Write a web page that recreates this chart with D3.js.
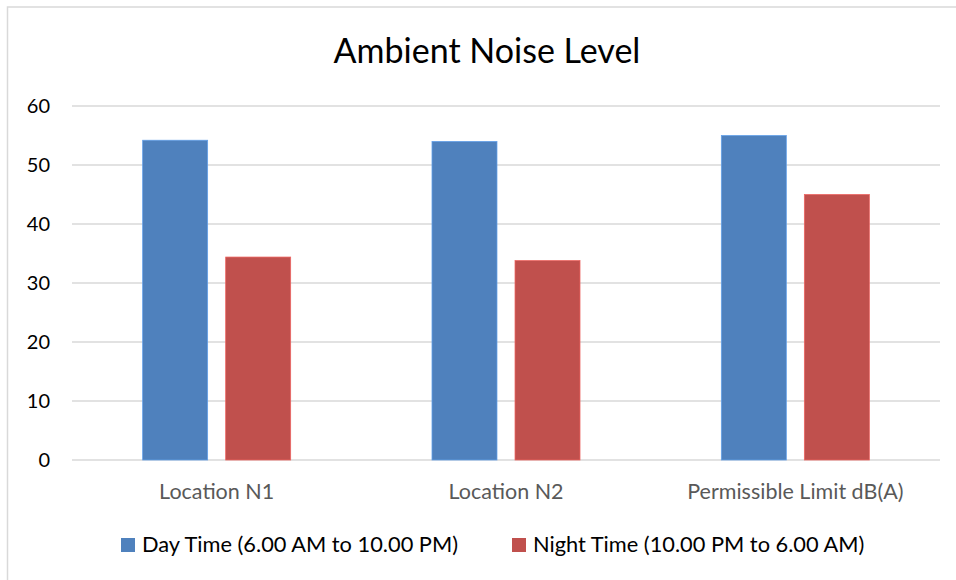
<!DOCTYPE html>
<html>
<head>
<meta charset="utf-8">
<script src="https://cdn.jsdelivr.net/npm/d3@7"></script>
<style>
  body { margin: 0; background: #fff; }
  text { font-family: Lato, 'Noto Sans', sans-serif; }
</style>
</head>
<body>
<svg width="956" height="580"></svg>
<script>
const categories = ['Location N1', 'Location N2', 'Permissible Limit dB(A)']
const seriesNames = ['Day Time (6.00 AM to 10.00 PM)', 'Night Time (10.00 PM to 6.00 AM)']
const dayValues = [54.2, 54.0, 55]
const nightValues = [34.4, 33.8, 45]
const yTicks = [0, 10, 20, 30, 40, 50, 60]
const colors = ['#4f81bd', '#c0504d']

const margin = { top: 106, left: 72, right: 16, bottom: 120 }
const width = 956 - margin.left - margin.right
const height = 460 - margin.top

const svg = d3.select('svg')

// chart frame (cut off by the picture on the right and bottom)
svg.append('rect')
  .attr('x', 7.5).attr('y', 7)
  .attr('width', 1000).attr('height', 1000)
  .attr('fill', 'none')
  .attr('stroke', '#d9d9d9')
  .attr('stroke-width', 1.5)

svg.append('text')
  .text('Ambient Noise Level')
  .attr('x', 487).attr('y', 63)
  .attr('text-anchor', 'middle')
  .attr('font-size', 34)
  .attr('fill', '#000')

const g = svg.append('g')
  .attr('transform', 'translate(' + margin.left + ',' + margin.top + ')')

const x0 = d3.scaleBand().domain(categories).range([0, width])
const x1 = d3.scaleBand().domain([0, 1])
  .range([0, x0.bandwidth()])
  .paddingInner(0.217)
  .paddingOuter(0.851)
const y = d3.scaleLinear().domain([0, 60]).range([height, 0])

// gridlines
g.append('g')
  .attr('class', 'grid')
  .selectAll('line')
  .data(yTicks)
  .join('line')
  .attr('x1', 0).attr('x2', width)
  .attr('y1', d => y(d)).attr('y2', d => y(d))
  .attr('stroke', '#d9d9d9')
  .attr('stroke-width', 1.5)

// y axis labels
const yAxis = g.append('g')
  .call(d3.axisLeft(y).tickValues(yTicks).tickSize(0).tickPadding(22))
yAxis.select('.domain').remove()
yAxis.selectAll('text')
  .attr('font-size', 20)
  .attr('fill', '#000')
  .attr('font-family', 'Lato, sans-serif')

// x axis labels
const xAxis = g.append('g')
  .attr('transform', 'translate(0,' + height + ')')
  .call(d3.axisBottom(x0).tickSize(0).tickPadding(23.5))
xAxis.select('.domain').remove()
xAxis.selectAll('text')
  .attr('font-size', 21.5)
  .attr('fill', '#595959')
  .attr('font-family', 'Lato, sans-serif')

const data = categories.map((c, i) => ({ cat: c, values: [dayValues[i], nightValues[i]] }))

g.selectAll('.group')
  .data(data)
  .join('g')
  .attr('class', 'group')
  .attr('transform', d => 'translate(' + x0(d.cat) + ',0)')
  .selectAll('rect')
  .data(d => d.values.map((v, s) => ({ v, s })))
  .join('rect')
  .attr('x', d => x1(d.s))
  .attr('width', x1.bandwidth())
  .attr('y', d => y(d.v))
  .attr('height', d => height - y(d.v))
  .attr('fill', d => colors[d.s])
  .attr('stroke', d => d3.color(colors[d.s]).brighter(0.6))
  .attr('stroke-width', 0.75)

// legend
const legendPos = [121, 512]
const legend = svg.append('g')
  .selectAll('g')
  .data(seriesNames)
  .join('g')
  .attr('transform', (d, i) => 'translate(' + legendPos[i] + ',538)')
legend.append('rect')
  .attr('width', 14).attr('height', 14)
  .attr('fill', (d, i) => colors[i])
legend.append('text')
  .text(d => d)
  .attr('x', 21).attr('y', 14)
  .attr('font-size', 21.8)
  .attr('fill', '#000')
</script>
</body>
</html>
